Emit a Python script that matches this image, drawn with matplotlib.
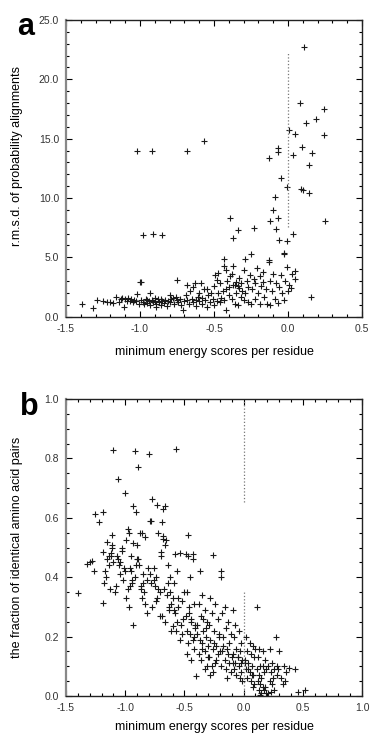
import matplotlib
matplotlib.use("Agg")  # nur Datei schreiben
import matplotlib.pyplot as plt
from matplotlib.ticker import MultipleLocator, FormatStrFormatter

plt.rcParams["font.family"] = ["Liberation Sans", "DejaVu Sans"]

# --- Panel a: minimum energy score vs. r.m.s.d. of probability alignments ---
# vereinzelte Punkte oben / rechts
outliers_a = [
    (-1.02, 14.0), (-0.92, 14.0), (-0.68, 14.0), (-0.57, 14.8), (0.11, 22.7),
    (0.08, 18.0), (0.24, 17.5), (0.19, 16.7), (0.12, 16.3), (0.01, 15.7),
    (0.045, 15.4), (0.24, 15.3), (-0.07, 14.2), (0.095, 14.3), (0.036, 13.6),
    (0.16, 13.8), (-0.13, 13.4), (0.14, 12.75), (-0.05, 11.7), (-0.01, 10.9),
    (0.09, 10.8), (0.10, 10.7), (0.14, 10.4), (-0.09, 10.1), (-0.10, 9.0),
    (-0.12, 8.1), (-0.07, 8.3), (-0.08, 7.4), (-0.39, 8.3), (-0.34, 7.3),
    (-0.37, 6.6), (-0.23, 7.5), (0.036, 7.0), (-0.01, 6.4), (-0.06, 6.5),
    (0.25, 8.1), (-0.98, 6.9), (-0.91, 7.0), (-0.85, 6.9), (0.153, 1.66),
    (-0.03, 5.3), (-0.07, 13.9),
]
# dichte Wolke unten
cloud_a = [
    (-1.39, 1.1), (-1.32, 0.7), (-1.29, 1.4), (-1.25, 1.3), (-1.22, 1.2),
    (-1.20, 1.25), (-1.18, 1.15), (-1.16, 1.7), (-1.14, 1.2), (-1.13, 1.5),
    (-1.12, 1.6), (-1.11, 0.8), (-1.10, 1.45), (-1.09, 1.35), (-1.08, 1.55),
    (-1.07, 1.3), (-1.06, 1.5), (-1.05, 1.2), (-1.04, 1.4), (-1.03, 1.35),
    (-1.02, 1.9), (-1.01, 1.1), (-1.00, 2.95), (-0.99, 2.9), (-0.99, 1.4),
    (-0.98, 1.2), (-0.97, 1.05), (-0.96, 1.5), (-0.95, 1.4), (-0.95, 1.15),
    (-0.94, 1.3), (-0.93, 2.0), (-0.93, 1.0), (-0.92, 1.4), (-0.91, 1.2),
    (-0.90, 1.6), (-0.90, 1.3), (-0.89, 0.8), (-0.89, 1.1), (-0.88, 1.45),
    (-0.87, 1.25), (-0.86, 1.0), (-0.86, 1.5), (-0.85, 1.3), (-0.84, 1.15),
    (-0.83, 1.4), (-0.82, 0.9), (-0.81, 1.35), (-0.80, 1.8), (-0.80, 1.2),
    (-0.79, 1.5), (-0.78, 1.6), (-0.77, 1.1), (-0.76, 1.7), (-0.75, 3.1),
    (-0.75, 1.4), (-0.74, 1.2), (-0.73, 1.5), (-0.72, 1.0), (-0.71, 0.55),
    (-0.70, 1.3), (-0.69, 1.8), (-0.68, 2.65), (-0.68, 1.4), (-0.67, 1.1),
    (-0.66, 2.2), (-0.65, 1.5), (-0.64, 2.5), (-0.64, 1.2), (-0.63, 2.8),
    (-0.62, 1.4), (-0.62, 0.9), (-0.61, 1.7), (-0.60, 2.0), (-0.60, 1.3),
    (-0.59, 2.8), (-0.58, 1.1), (-0.58, 1.6), (-0.57, 2.3), (-0.56, 1.4),
    (-0.55, 2.3), (-0.55, 0.8), (-0.54, 1.8), (-0.53, 1.2), (-0.52, 2.0),
    (-0.51, 1.5), (-0.50, 1.0), (-0.50, 2.6), (-0.49, 3.5), (-0.48, 3.1),
    (-0.48, 1.3), (-0.47, 3.65), (-0.47, 2.0), (-0.46, 1.2), (-0.46, 2.8),
    (-0.45, 1.6), (-0.44, 2.2), (-0.43, 4.9), (-0.43, 4.25), (-0.43, 1.4),
    (-0.42, 3.95), (-0.42, 0.6), (-0.42, 2.3), (-0.41, 3.0), (-0.40, 1.8),
    (-0.40, 2.5), (-0.39, 3.4), (-0.38, 3.6), (-0.38, 1.5), (-0.37, 4.25),
    (-0.37, 2.7), (-0.36, 2.65), (-0.36, 1.1), (-0.35, 2.9), (-0.35, 2.0),
    (-0.34, 0.95), (-0.34, 2.6), (-0.33, 2.4), (-0.33, 3.3), (-0.32, 2.8),
    (-0.32, 1.7), (-0.31, 2.2), (-0.30, 3.9), (-0.30, 1.4), (-0.29, 4.85),
    (-0.29, 2.0), (-0.28, 3.0), (-0.27, 1.2), (-0.27, 2.5), (-0.26, 3.5),
    (-0.25, 5.25), (-0.25, 1.1), (-0.24, 2.3), (-0.23, 3.2), (-0.22, 2.8),
    (-0.22, 1.5), (-0.21, 4.1), (-0.20, 2.0), (-0.19, 1.1), (-0.19, 3.4),
    (-0.18, 2.6), (-0.17, 2.9), (-0.17, 3.8), (-0.16, 1.7), (-0.15, 2.3),
    (-0.14, 1.1), (-0.13, 4.8), (-0.13, 4.6), (-0.12, 0.95), (-0.12, 3.0),
    (-0.11, 2.2), (-0.10, 3.6), (-0.09, 1.5), (-0.08, 2.8), (-0.07, 1.15),
    (-0.06, 2.5), (-0.05, 3.5), (-0.04, 2.0), (-0.03, 5.4), (-0.03, 1.4),
    (-0.02, 3.0), (-0.01, 4.2), (0.00, 2.2), (0.01, 2.7), (0.02, 2.4),
    (0.03, 3.6), (0.05, 3.2), (0.05, 3.85),
]

# --- Panel b: minimum energy score vs. fraction of identical pairs ---
upper_b = [
    (-1.40, 0.346), (-1.32, 0.444), (-1.30, 0.45), (-1.255, 0.614), (-1.19, 0.62),
    (-1.22, 0.585), (-1.28, 0.455), (-1.26, 0.42),
    (-1.19, 0.314), (-1.185, 0.486), (-1.15, 0.46), (-1.14, 0.47), (-1.12, 0.48),
    (-1.11, 0.543), (-1.11, 0.51), (-1.11, 0.50), (-1.10, 0.828), (-1.17, 0.42),
    (-1.16, 0.40), (-1.06, 0.73), (-1.10, 0.45), (-1.13, 0.36), (-1.18, 0.38),
    (-1.15, 0.52), (-1.12, 0.47), (-1.14, 0.44),
    (-1.00, 0.685), (-1.03, 0.49), (-0.99, 0.525), (-0.98, 0.561), (-1.07, 0.47),
    (-1.05, 0.44), (-1.04, 0.41), (-1.02, 0.39), (-1.01, 0.43), (-1.08, 0.37),
    (-1.06, 0.46), (-1.03, 0.50), (-1.00, 0.42), (-1.09, 0.35), (-1.04, 0.45),
    (-0.93, 0.64), (-0.91, 0.62), (-0.92, 0.825), (-0.93, 0.515), (-0.90, 0.51),
    (-0.97, 0.55), (-0.95, 0.47), (-0.96, 0.43), (-0.94, 0.38), (-0.98, 0.36),
    (-0.92, 0.40), (-0.91, 0.44), (-0.95, 0.42), (-0.97, 0.30), (-0.93, 0.238),
    (-0.99, 0.33), (-0.90, 0.46), (-0.96, 0.37), (-0.94, 0.39),
    (-0.89, 0.771), (-0.875, 0.55), (-0.86, 0.55), (-0.80, 0.816), (-0.83, 0.536),
    (-0.88, 0.44), (-0.85, 0.41), (-0.87, 0.37), (-0.84, 0.35), (-0.82, 0.39),
    (-0.86, 0.33), (-0.81, 0.43), (-0.89, 0.46), (-0.83, 0.31), (-0.85, 0.38),
    (-0.87, 0.36), (-0.82, 0.28),
    (-0.79, 0.59), (-0.77, 0.663), (-0.73, 0.643), (-0.78, 0.59), (-0.72, 0.55),
    (-0.70, 0.485), (-0.70, 0.47), (-0.76, 0.43), (-0.74, 0.40), (-0.78, 0.38),
    (-0.71, 0.35), (-0.75, 0.37), (-0.73, 0.33), (-0.77, 0.30), (-0.72, 0.36),
    (-0.79, 0.41), (-0.74, 0.32), (-0.71, 0.27), (-0.76, 0.39),
    (-0.66, 0.64), (-0.68, 0.63), (-0.69, 0.585), (-0.68, 0.54), (-0.68, 0.53),
    (-0.655, 0.527), (-0.66, 0.51), (-0.64, 0.44), (-0.62, 0.40), (-0.67, 0.36),
    (-0.65, 0.34), (-0.61, 0.31), (-0.63, 0.29), (-0.60, 0.33), (-0.69, 0.27),
    (-0.64, 0.38), (-0.62, 0.35), (-0.66, 0.25), (-0.61, 0.22), (-0.63, 0.30),
]
lower_b = [
    (-0.57, 0.833), (-0.54, 0.48), (-0.58, 0.478), (-0.56, 0.42), (-0.59, 0.38),
    (-0.52, 0.32), (-0.55, 0.30), (-0.58, 0.28), (-0.51, 0.26), (-0.53, 0.24),
    (-0.57, 0.22), (-0.50, 0.35), (-0.55, 0.33), (-0.52, 0.21), (-0.59, 0.29),
    (-0.54, 0.19), (-0.56, 0.25), (-0.60, 0.235),
    (-0.47, 0.543), (-0.49, 0.478), (-0.43, 0.478), (-0.43, 0.46), (-0.47, 0.47),
    (-0.45, 0.40), (-0.48, 0.35), (-0.42, 0.31), (-0.46, 0.28), (-0.44, 0.26),
    (-0.41, 0.24), (-0.48, 0.22), (-0.45, 0.21), (-0.43, 0.19), (-0.47, 0.18),
    (-0.42, 0.16), (-0.49, 0.27), (-0.44, 0.25), (-0.41, 0.23), (-0.46, 0.30),
    (-0.44, 0.12), (-0.48, 0.14), (-0.40, 0.068), (-0.42, 0.20),
    (-0.37, 0.42), (-0.35, 0.34), (-0.38, 0.31), (-0.33, 0.29), (-0.36, 0.27),
    (-0.31, 0.25), (-0.39, 0.24), (-0.34, 0.22), (-0.32, 0.20), (-0.37, 0.19),
    (-0.35, 0.18), (-0.30, 0.17), (-0.33, 0.15), (-0.38, 0.14), (-0.36, 0.12),
    (-0.31, 0.10), (-0.34, 0.26), (-0.32, 0.23), (-0.39, 0.21), (-0.35, 0.16),
    (-0.33, 0.09), (-0.30, 0.13),
    (-0.26, 0.475), (-0.28, 0.33), (-0.24, 0.31), (-0.27, 0.28), (-0.22, 0.26),
    (-0.29, 0.24), (-0.25, 0.22), (-0.21, 0.20), (-0.28, 0.19), (-0.23, 0.17),
    (-0.26, 0.16), (-0.22, 0.14), (-0.29, 0.13), (-0.24, 0.11), (-0.27, 0.10),
    (-0.21, 0.21), (-0.25, 0.18), (-0.20, 0.15), (-0.23, 0.12), (-0.26, 0.08),
    (-0.28, 0.07),
    (-0.19, 0.42), (-0.19, 0.40), (-0.16, 0.30), (-0.18, 0.28), (-0.13, 0.25),
    (-0.15, 0.23), (-0.11, 0.21), (-0.17, 0.20), (-0.12, 0.18), (-0.14, 0.16),
    (-0.18, 0.15), (-0.10, 0.13), (-0.16, 0.12), (-0.12, 0.11), (-0.15, 0.09),
    (-0.11, 0.08), (-0.17, 0.17), (-0.13, 0.14), (-0.19, 0.10), (-0.14, 0.06),
    (-0.09, 0.29), (-0.07, 0.24), (-0.04, 0.22), (-0.08, 0.20), (-0.02, 0.18),
    (-0.06, 0.16), (-0.03, 0.15), (-0.09, 0.14), (-0.05, 0.13), (-0.01, 0.12),
    (-0.07, 0.11), (-0.04, 0.10), (-0.08, 0.09), (-0.02, 0.08), (-0.06, 0.07),
    (-0.03, 0.06), (-0.01, 0.05), (-0.05, 0.13), (-0.09, 0.11), (-0.02, 0.11),
    (0.02, 0.20), (0.05, 0.18), (0.08, 0.17), (0.03, 0.15), (0.06, 0.14),
    (0.09, 0.13), (0.01, 0.12), (0.04, 0.11), (0.07, 0.10), (0.02, 0.09),
    (0.05, 0.08), (0.08, 0.07), (0.03, 0.06), (0.06, 0.05), (0.09, 0.04),
    (0.01, 0.11), (0.04, 0.09), (0.07, 0.07), (0.10, 0.16), (0.08, 0.03),
    (0.11, 0.30), (0.13, 0.16), (0.16, 0.15), (0.12, 0.13), (0.18, 0.12),
    (0.14, 0.10), (0.11, 0.09), (0.17, 0.08), (0.13, 0.07), (0.15, 0.06),
    (0.12, 0.05), (0.14, 0.04), (0.16, 0.03), (0.13, 0.02), (0.15, 0.01),
    (0.14, 0.005), (0.18, 0.03), (0.17, 0.02), (0.19, 0.01), (0.16, 0.10),
    (0.19, 0.09),
    (0.27, 0.198), (0.22, 0.16), (0.24, 0.11), (0.21, 0.10), (0.26, 0.09),
    (0.23, 0.08), (0.28, 0.07), (0.25, 0.06), (0.22, 0.05), (0.24, 0.04),
    (0.26, 0.02), (0.21, 0.01), (0.23, 0.015), (0.29, 0.09), (0.28, 0.10),
    (0.30, 0.15),
    (0.34, 0.10), (0.38, 0.093), (0.43, 0.09), (0.32, 0.06), (0.35, 0.05),
    (0.33, 0.04), (0.46, 0.015), (0.52, 0.02), (0.36, 0.08),
]

XLABEL = "minimum energy scores per residue"
YLABEL_A = "r.m.s.d. of probability alignments"
YLABEL_B = "the fraction of identical amino acid pairs"

MARKER = dict(marker="+", linestyle="none", color="#1a1a1a",
              markersize=5, markeredgewidth=0.8)


def style_axes(ax, xmaj, xmin, ymaj, ymin):
    ax.xaxis.set_major_locator(MultipleLocator(xmaj))
    ax.xaxis.set_minor_locator(MultipleLocator(xmin))
    ax.yaxis.set_major_locator(MultipleLocator(ymaj))
    ax.yaxis.set_minor_locator(MultipleLocator(ymin))
    ax.xaxis.set_major_formatter(FormatStrFormatter("%.1f"))
    ax.yaxis.set_major_formatter(FormatStrFormatter("%.1f"))
    ax.tick_params(which="both", direction="in", top=True, right=True,
                   labelsize=7.5, labelcolor="#333333", width=0.8)
    ax.tick_params(which="major", length=4, pad=5)
    ax.tick_params(which="minor", length=2)
    for side in ["top", "right", "bottom"]:
        ax.spines[side].set_linewidth(1.0)
        ax.spines[side].set_color("#222222")
    ax.spines["left"].set_linewidth(1.6)
    ax.spines["left"].set_color("#888888")


fig = plt.figure(figsize=(3.72, 7.36), dpi=100)

# Panel a
ax_a = fig.add_axes([0.1774, 0.5697, 0.7957, 0.4031])
xa, ya = zip(*(outliers_a + cloud_a))
ax_a.plot(xa, ya, **MARKER)
ax_a.plot([0, 0], [7.6, 22.3], linestyle=":", color="#777777", linewidth=0.9)
ax_a.set_xlim(-1.5, 0.5)
ax_a.set_ylim(0, 25)
style_axes(ax_a, 0.5, 0.1, 5, 1)
ax_a.set_xlabel(XLABEL, fontsize=9, labelpad=9)
ax_a.set_ylabel(YLABEL_A, fontsize=9, labelpad=8)
ax_a.yaxis.set_label_coords(-0.145, 0.54)
fig.text(0.045, 0.963, "a", fontsize=22, fontweight="bold", va="center")

# Panel b
ax_b = fig.add_axes([0.1774, 0.0543, 0.7957, 0.4035])
xb, yb = zip(*(upper_b + lower_b))
ax_b.plot(xb, yb, **MARKER)
ax_b.plot([0, 0], [0.655, 1.0], linestyle=":", color="#777777", linewidth=0.9)
ax_b.plot([0, 0], [0.0, 0.35], linestyle=":", color="#777777", linewidth=0.9)
ax_b.set_xlim(-1.5, 1.0)
ax_b.set_ylim(0, 1.0)
style_axes(ax_b, 0.5, 0.1, 0.2, 0.05)
ax_b.set_xlabel(XLABEL, fontsize=9, labelpad=6)
ax_b.set_ylabel(YLABEL_B, fontsize=9, labelpad=8)
ax_b.yaxis.set_label_coords(-0.145, 0.5)
fig.text(0.055, 0.447, "b", fontsize=22, fontweight="bold", va="center")

plt.savefig("out.png", dpi=100)
plt.close(fig)
